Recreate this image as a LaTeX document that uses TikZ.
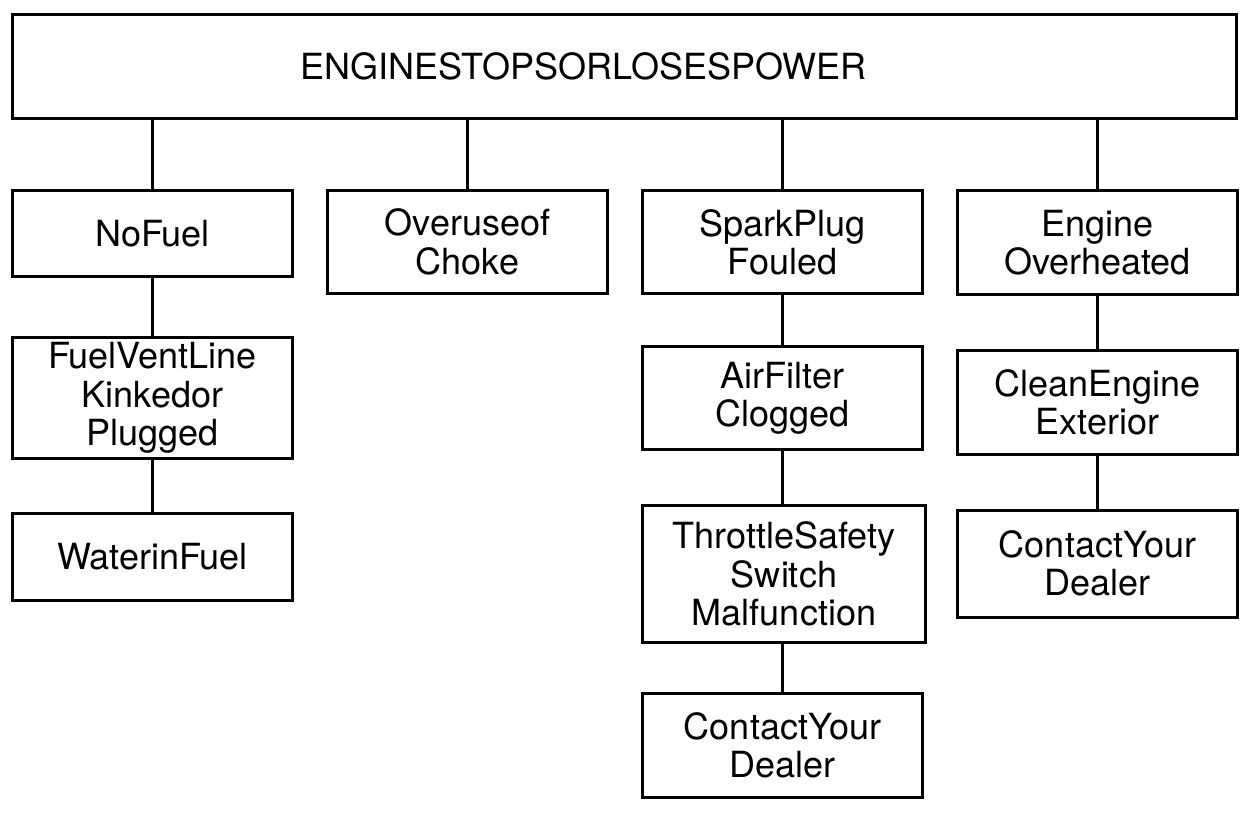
\documentclass[tikz,border=0pt]{standalone}
\usepackage{fontspec}
\setmainfont{TeX Gyre Heros}
\tikzset{
  box/.style={draw, rectangle, line width=0.06cm, minimum width=5.62cm,
    align=center, inner sep=0pt, outer sep=0pt,
    font=\fontsize{20.5}{21.8}\selectfont},
}
\begin{document}
\begin{tikzpicture}[x=0.02cm, y=-0.02cm]
      \useasboundingbox (0,0) rectangle (1250,815);
      \draw
        (624.5,66.5) node[box, minimum width=24.5cm, minimum height=2.08cm] (top){\raisebox{-0.1cm}{ENGINESTOPSORLOSESPOWER}\hspace*{1.64cm}}
        (152.5,233.5) node[box, minimum height=1.74cm] (nofuel){NoFuel}
        (467.5,242) node[box, minimum height=2.08cm] (choke){Overuseof\\Choke}
        (782.5,242) node[box, minimum height=2.08cm] (spark){SparkPlug\\Fouled}
        (1097.5,242.5) node[box, minimum height=2.1cm] (heat){Engine\\Overheated}
        (152.5,398) node[box, minimum height=2.44cm] (vent){FuelVentLine\\Kinkedor\\Plugged}
        (152.5,556.5) node[box, minimum height=1.74cm] (water){WaterinFuel}
        (782.5,398) node[box, minimum height=2.08cm] (air){AirFilter\\Clogged}
        (784,574) node[box, minimum width=5.68cm, minimum height=2.76cm] (throttle){ThrottleSafety\\Switch\\Malfunction}
        (782.5,745) node[box, minimum height=2.08cm] (dealer1){ContactYour\\Dealer}
        (1097.5,402.5) node[box, minimum height=2.1cm] (clean){CleanEngine\\Exterior}
        (1097.5,563.5) node[box, minimum height=2.14cm] (dealer2){ContactYour\\Dealer};
      \begin{scope}[line width=0.06cm]
        \draw (top.south -| nofuel) to (nofuel);
        \draw (top.south -| choke) to (choke);
        \draw (top.south -| spark) to (spark);
        \draw (top.south -| heat) to (heat);
        \draw (nofuel) to (vent);
        \draw (vent) to (water);
        \draw (spark) to (air);
        \draw (air) to (throttle.north -| air);
        \draw (throttle.south -| air) to (dealer1);
        \draw (heat) to (clean);
        \draw (clean) to (dealer2);
      \end{scope}
    \end{tikzpicture}
\end{document}
